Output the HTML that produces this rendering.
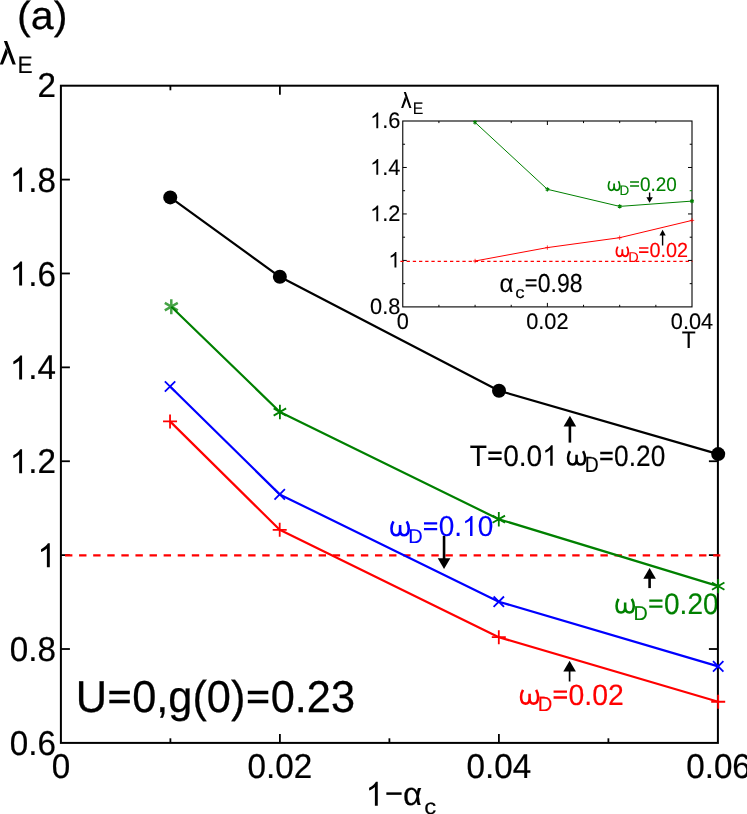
<!DOCTYPE html>
<html><head><meta charset="utf-8"><title>fig</title>
<style>html,body{margin:0;padding:0;background:#fff;}svg{display:block;will-change:transform;}text{font-family:"Liberation Sans",sans-serif;text-rendering:geometricPrecision;}</style>
</head><body>
<svg width="747" height="814" viewBox="0 0 747 814">
<rect x="0" y="0" width="747" height="814" fill="#fff"/>
<path d="M618.54 598.88C617.42 600.79 616.56 603.25 616.56 605.98C616.56 610.08 618.28 612.54 621.03 612.54C623.43 612.54 625.15 610.63 625.15 607.35L625.15 602.56M625.15 607.35C625.15 610.63 626.87 612.54 629.44 612.54C632.02 612.54 633.74 610.08 633.74 605.98C633.74 603.25 632.88 600.79 631.76 598.88" fill="none" stroke="#008000" stroke-width="2.57" stroke-linejoin="round"/>
<text transform="translate(633.45 620.23) scale(0.9813 1)" font-size="20.13" fill="#008000" stroke="#008000" stroke-width="0.12">D</text>
<path d="M649.27 599.42h13.22v2.33h-13.22zM649.27 605.47h13.22v2.33h-13.22z" fill="#008000"/>
<text transform="translate(664.06 613.73) scale(0.9412 1)" font-size="29.73" fill="#008000" stroke="#008000" stroke-width="0.18">0.20</text>
<rect x="60.9" y="85.7" width="657.0" height="657.1999999999999" stroke="#000" stroke-width="2.0" fill="none"/>
<g stroke="#000" stroke-width="1.8" fill="none">
<path d="M60.9 649.01h9"/>
<path d="M717.9 649.01h-9"/>
<path d="M60.9 555.13h9"/>
<path d="M717.9 555.13h-9"/>
<path d="M60.9 461.24h9"/>
<path d="M717.9 461.24h-9"/>
<path d="M60.9 367.36h9"/>
<path d="M60.9 273.47h9"/>
<path d="M60.9 179.59h9"/>
<path d="M170.40 742.9v-4.6"/>
<path d="M170.40 85.7v4.6"/>
<path d="M279.90 742.9v-9"/>
<path d="M279.90 85.7v9"/>
<path d="M389.40 742.9v-4.6"/>
<path d="M498.90 742.9v-9"/>
<path d="M608.40 742.9v-4.6"/>
</g>
<text transform="translate(37.42 96.80) scale(0.9630 1)" font-size="34.50" fill="#000" stroke="#000" stroke-width="0.21">2</text>
<path transform="translate(9.71 191.69) scale(0.01622 -0.01636)" d="M763 0H583V1147Q518 1085 412.5 1023T223 930V1104Q374 1175 487 1276T647 1472H763Z" fill="#000"/>
<text transform="translate(28.19 191.69) scale(0.9630 1)" font-size="34.50" fill="#000" stroke="#000" stroke-width="0.21">.8</text>
<path transform="translate(9.71 285.57) scale(0.01622 -0.01636)" d="M763 0H583V1147Q518 1085 412.5 1023T223 930V1104Q374 1175 487 1276T647 1472H763Z" fill="#000"/>
<text transform="translate(28.19 285.57) scale(0.9630 1)" font-size="34.50" fill="#000" stroke="#000" stroke-width="0.21">.6</text>
<path transform="translate(9.71 379.46) scale(0.01622 -0.01636)" d="M763 0H583V1147Q518 1085 412.5 1023T223 930V1104Q374 1175 487 1276T647 1472H763Z" fill="#000"/>
<text transform="translate(28.19 379.46) scale(0.9630 1)" font-size="34.50" fill="#000" stroke="#000" stroke-width="0.21">.4</text>
<path transform="translate(9.71 473.34) scale(0.01622 -0.01636)" d="M763 0H583V1147Q518 1085 412.5 1023T223 930V1104Q374 1175 487 1276T647 1472H763Z" fill="#000"/>
<text transform="translate(28.19 473.34) scale(0.9630 1)" font-size="34.50" fill="#000" stroke="#000" stroke-width="0.21">.2</text>
<path transform="translate(37.42 567.23) scale(0.01622 -0.01636)" d="M763 0H583V1147Q518 1085 412.5 1023T223 930V1104Q374 1175 487 1276T647 1472H763Z" fill="#000"/>
<text transform="translate(9.71 661.11) scale(0.9630 1)" font-size="34.50" fill="#000" stroke="#000" stroke-width="0.21">0.8</text>
<text transform="translate(9.71 755.00) scale(0.9630 1)" font-size="34.50" fill="#000" stroke="#000" stroke-width="0.21">0.6</text>
<text transform="translate(51.66 778.10) scale(0.9630 1)" font-size="34.50" fill="#000" stroke="#000" stroke-width="0.21">0</text>
<text transform="translate(247.57 778.10) scale(0.9630 1)" font-size="34.50" fill="#000" stroke="#000" stroke-width="0.21">0.02</text>
<text transform="translate(466.57 778.10) scale(0.9630 1)" font-size="34.50" fill="#000" stroke="#000" stroke-width="0.21">0.04</text>
<text transform="translate(686.17 778.10) scale(0.9630 1)" font-size="34.50" fill="#000" stroke="#000" stroke-width="0.21">0.06</text>
<text transform="translate(17.08 29.41) scale(1.0429 1)" font-size="39.46" fill="#000" stroke="#000" stroke-width="0.24">(a)</text>
<path d="M3.87 40.97L7.16 40.97L15.83 64.62L12.53 64.62ZM-0.23 64.62L2.99 64.62L7.80 52.80L5.95 47.72Z" fill="#000"/>
<text transform="translate(17.61 72.67) scale(0.9501 1)" font-size="23.98" fill="#000" stroke="#000" stroke-width="0.14">E</text>
<path transform="translate(365.57 805.73) scale(0.01598 -0.01634)" d="M763 0H583V1147Q518 1085 412.5 1023T223 930V1104Q374 1175 487 1276T647 1472H763Z" fill="#000"/>
<path d="M386.35 793.6H401.6" stroke="#000" stroke-width="2.5" fill="none"/>
<text transform="translate(403.09 805.41) scale(1.0273 1)" font-size="32.22" fill="#000" stroke="#000" stroke-width="0.19">α</text>
<text transform="translate(424.36 813.81) scale(1.1155 1)" font-size="21.52" fill="#000" stroke="#000" stroke-width="0.13">c</text>
<text transform="translate(75.63 712.14) scale(0.9707 1)" font-size="44.63" fill="#000" stroke="#000" stroke-width="0.27">U</text>
<path d="M109.33 690.66h20.46v3.50h-20.46zM109.33 699.74h20.46v3.50h-20.46z" fill="#000"/>
<text transform="translate(132.22 712.14) scale(0.9707 1)" font-size="44.63" fill="#000" stroke="#000" stroke-width="0.27">0,g(0)</text>
<path d="M247.82 690.66h20.46v3.50h-20.46zM247.82 699.74h20.46v3.50h-20.46z" fill="#000"/>
<text transform="translate(270.70 712.14) scale(0.9707 1)" font-size="44.63" fill="#000" stroke="#000" stroke-width="0.27">0.23</text>
<path d="M65 555.3H720.3" stroke="#f00" stroke-width="2.2" stroke-dasharray="7.4 6.69" fill="none"/>
<path d="M170.05 421.40L279.70 529.80L498.80 637.20L718.20 701.75" stroke="#ff0000" stroke-width="2.2" fill="none" stroke-linejoin="round"/>
<path d="M163.05 421.40h14M170.05 414.40v14" stroke="#ff0000" stroke-width="1.8" fill="none"/>
<path d="M272.70 529.80h14M279.70 522.80v14" stroke="#ff0000" stroke-width="1.8" fill="none"/>
<path d="M491.80 637.20h14M498.80 630.20v14" stroke="#ff0000" stroke-width="1.8" fill="none"/>
<path d="M711.20 701.75h14M718.20 694.75v14" stroke="#ff0000" stroke-width="1.8" fill="none"/>
<path d="M170.05 386.50L279.70 494.40L498.80 601.70L718.20 666.40" stroke="#0000ff" stroke-width="2.2" fill="none" stroke-linejoin="round"/>
<path d="M164.85 381.30l10.4 10.4M164.85 391.70l10.4 -10.4" stroke="#0000ff" stroke-width="1.8" fill="none"/>
<path d="M274.50 489.20l10.4 10.4M274.50 499.60l10.4 -10.4" stroke="#0000ff" stroke-width="1.8" fill="none"/>
<path d="M493.60 596.50l10.4 10.4M493.60 606.90l10.4 -10.4" stroke="#0000ff" stroke-width="1.8" fill="none"/>
<path d="M713.00 661.20l10.4 10.4M713.00 671.60l10.4 -10.4" stroke="#0000ff" stroke-width="1.8" fill="none"/>
<path d="M171.30 306.70L279.90 412.00L498.80 519.20L718.20 586.10" stroke="#008000" stroke-width="2.2" fill="none" stroke-linejoin="round"/>
<defs><filter id="soft" x="-30%" y="-30%" width="160%" height="160%"><feGaussianBlur stdDeviation="0.45"/></filter></defs>
<path d="M171.30 299.20v15.0M164.81 302.95l12.99 7.50M164.81 310.45l12.99 -7.50" stroke="#008000" stroke-width="2.5" fill="none" opacity="0.72" filter="url(#soft)"/>
<path d="M279.90 404.80v14.4M273.66 408.40l12.47 7.20M273.66 415.60l12.47 -7.20" stroke="#008000" stroke-width="1.8" fill="none"/>
<path d="M498.80 512.00v14.4M492.56 515.60l12.47 7.20M492.56 522.80l12.47 -7.20" stroke="#008000" stroke-width="1.8" fill="none"/>
<path d="M718.20 578.90v14.4M711.96 582.50l12.47 7.20M711.96 589.70l12.47 -7.20" stroke="#008000" stroke-width="1.8" fill="none"/>
<path d="M170.25 197.40L279.85 276.80L499.00 390.75L718.20 454.10" stroke="#000" stroke-width="2.2" fill="none" stroke-linejoin="round"/>
<circle cx="170.25" cy="197.40" r="7" fill="#000"/>
<circle cx="279.85" cy="276.80" r="7" fill="#000"/>
<circle cx="499.00" cy="390.75" r="7" fill="#000"/>
<circle cx="718.20" cy="454.10" r="7" fill="#000"/>
<path d="M569.9 442.6V425.5" stroke="#000" stroke-width="2.6" fill="none"/>
<path d="M569.9 415.7l6.3 10.8h-12.6z" fill="#000"/>
<path d="M649.6 588.1V577.8" stroke="#000" stroke-width="2.6" fill="none"/>
<path d="M649.6 568.0l6.3 10.8h-12.6z" fill="#000"/>
<path d="M569.6 681.5V670.5" stroke="#000" stroke-width="1.7" fill="none"/>
<path d="M569.6 660.7l6.3 10.8h-12.6z" fill="#000"/>
<text transform="translate(469.64 465.84) scale(0.9489 1)" font-size="29.59" fill="#000" stroke="#000" stroke-width="0.18">T</text>
<path d="M488.36 451.59h13.26v2.32h-13.26zM488.36 457.61h13.26v2.32h-13.26z" fill="#000"/>
<text transform="translate(503.19 465.84) scale(0.9489 1)" font-size="29.59" fill="#000" stroke="#000" stroke-width="0.18">0.0</text>
<path transform="translate(542.22 465.84) scale(0.01371 -0.01403)" d="M763 0H583V1147Q518 1085 412.5 1023T223 930V1104Q374 1175 487 1276T647 1472H763Z" fill="#000"/>
<path d="M569.99 451.07C568.89 452.95 568.03 455.36 568.03 458.04C568.03 462.05 569.74 464.47 572.46 464.47C574.85 464.47 576.55 462.59 576.55 459.38L576.55 454.69M576.55 459.38C576.55 462.59 578.25 464.47 580.81 464.47C583.36 464.47 585.07 462.05 585.07 458.04C585.07 455.36 584.21 452.95 583.11 451.07" fill="none" stroke="#000" stroke-width="2.52" stroke-linejoin="round"/>
<text transform="translate(584.79 472.38) scale(0.8808 1)" font-size="21.95" fill="#000" stroke="#000" stroke-width="0.13">D</text>
<path d="M600.22 451.86h12.42v2.31h-12.42zM600.22 457.85h12.42v2.31h-12.42z" fill="#000"/>
<text transform="translate(614.12 466.04) scale(0.8930 1)" font-size="29.45" fill="#000" stroke="#000" stroke-width="0.18">0.20</text>
<path d="M444.05 536.0V559.3000000000001" stroke="#000" stroke-width="2.6" fill="none"/>
<path d="M444.05 569.1l6.3 -10.8h-12.6z" fill="#000"/>
<path d="M393.46 521.32C392.34 523.27 391.48 525.77 391.48 528.55C391.48 532.72 393.21 535.22 395.96 535.22C398.38 535.22 400.10 533.27 400.10 529.94L400.10 525.08M400.10 529.94C400.10 533.27 401.82 535.22 404.41 535.22C406.99 535.22 408.72 532.72 408.72 528.55C408.72 525.77 407.86 523.27 406.74 521.32" fill="none" stroke="#0000ff" stroke-width="2.61" stroke-linejoin="round"/>
<text transform="translate(408.28 542.93) scale(1.0011 1)" font-size="19.99" fill="#0000ff" stroke="#0000ff" stroke-width="0.12">D</text>
<path d="M423.98 522.21h13.22v2.25h-13.22zM423.98 528.06h13.22v2.25h-13.22z" fill="#0000ff"/>
<text transform="translate(438.76 536.04) scale(0.9735 1)" font-size="28.74" fill="#0000ff" stroke="#0000ff" stroke-width="0.17">0.</text>
<path transform="translate(462.09 536.04) scale(0.01366 -0.01363)" d="M763 0H583V1147Q518 1085 412.5 1023T223 930V1104Q374 1175 487 1276T647 1472H763Z" fill="#0000ff"/>
<text transform="translate(477.66 536.04) scale(0.9735 1)" font-size="28.74" fill="#0000ff" stroke="#0000ff" stroke-width="0.17">0</text>
<path d="M523.02 689.97C521.91 691.89 521.06 694.35 521.06 697.08C521.06 701.18 522.76 703.64 525.49 703.64C527.87 703.64 529.58 701.73 529.58 698.45L529.58 693.66M529.58 698.45C529.58 701.73 531.28 703.64 533.83 703.64C536.39 703.64 538.09 701.18 538.09 697.08C538.09 694.35 537.24 691.89 536.13 689.97" fill="none" stroke="#ff0000" stroke-width="2.57" stroke-linejoin="round"/>
<text transform="translate(537.72 711.03) scale(0.9810 1)" font-size="20.57" fill="#ff0000" stroke="#ff0000" stroke-width="0.12">D</text>
<path d="M553.57 690.40h13.41v2.30h-13.41zM553.57 696.37h13.41v2.30h-13.41z" fill="#ff0000"/>
<text transform="translate(568.57 704.54) scale(0.9661 1)" font-size="29.38" fill="#ff0000" stroke="#ff0000" stroke-width="0.18">0.02</text>
<rect x="402.77" y="121.0" width="289.23" height="185.89999999999998" fill="#fff" stroke="#000" stroke-width="1.1"/>
<g stroke="#000" stroke-width="1" fill="none">
<path d="M438.92 306.9v-2.1M438.92 121.0v2.1"/>
<path d="M475.08 306.9v-2.1M475.08 121.0v2.1"/>
<path d="M511.23 306.9v-2.1M511.23 121.0v2.1"/>
<path d="M547.38 306.9v-4M547.38 121.0v4"/>
<path d="M583.54 306.9v-2.1M583.54 121.0v2.1"/>
<path d="M619.69 306.9v-2.1M619.69 121.0v2.1"/>
<path d="M655.85 306.9v-2.1M655.85 121.0v2.1"/>
<path d="M402.77 283.66h2.3"/><path d="M692.0 283.66h-2.3"/>
<path d="M402.77 260.43h4"/><path d="M692.0 260.43h-4"/>
<path d="M402.77 237.19h2.3"/><path d="M692.0 237.19h-2.3"/>
<path d="M402.77 213.95h4"/><path d="M692.0 213.95h-4"/>
<path d="M402.77 190.71h2.3"/><path d="M692.0 190.71h-2.3" stroke="#008000"/>
<path d="M402.77 167.47h4"/><path d="M692.0 167.47h-4"/>
<path d="M402.77 144.24h2.3"/><path d="M692.0 144.24h-2.3"/>
</g>
<path transform="translate(370.12 128.20) scale(0.01063 -0.01067)" d="M763 0H583V1147Q518 1085 412.5 1023T223 930V1104Q374 1175 487 1276T647 1472H763Z" fill="#000"/>
<text transform="translate(382.24 128.20) scale(0.9680 1)" font-size="22.50" fill="#000" stroke="#000" stroke-width="0.14">.6</text>
<path transform="translate(370.12 174.68) scale(0.01063 -0.01067)" d="M763 0H583V1147Q518 1085 412.5 1023T223 930V1104Q374 1175 487 1276T647 1472H763Z" fill="#000"/>
<text transform="translate(382.24 174.68) scale(0.9680 1)" font-size="22.50" fill="#000" stroke="#000" stroke-width="0.14">.4</text>
<path transform="translate(370.12 221.15) scale(0.01063 -0.01067)" d="M763 0H583V1147Q518 1085 412.5 1023T223 930V1104Q374 1175 487 1276T647 1472H763Z" fill="#000"/>
<text transform="translate(382.24 221.15) scale(0.9680 1)" font-size="22.50" fill="#000" stroke="#000" stroke-width="0.14">.2</text>
<path transform="translate(388.29 267.62) scale(0.01063 -0.01067)" d="M763 0H583V1147Q518 1085 412.5 1023T223 930V1104Q374 1175 487 1276T647 1472H763Z" fill="#000"/>
<text transform="translate(370.12 314.10) scale(0.9680 1)" font-size="22.50" fill="#000" stroke="#000" stroke-width="0.14">0.8</text>
<text transform="translate(396.72 328.60) scale(0.9720 1)" font-size="22.40" fill="#000" stroke="#000" stroke-width="0.13">0</text>
<text transform="translate(526.20 328.60) scale(0.9720 1)" font-size="22.40" fill="#000" stroke="#000" stroke-width="0.13">0.02</text>
<text transform="translate(670.81 328.60) scale(0.9720 1)" font-size="22.40" fill="#000" stroke="#000" stroke-width="0.13">0.04</text>
<path d="M403.76 92.03L405.89 92.03L411.47 108.06L409.35 108.06ZM401.12 108.06L403.19 108.06L406.30 100.05L405.11 96.60Z" fill="#000"/>
<text transform="translate(412.83 113.62) scale(0.9548 1)" font-size="16.60" fill="#000" stroke="#000" stroke-width="0.10">E</text>
<text transform="translate(681.76 347.80) scale(0.9494 1)" font-size="24.01" fill="#000" stroke="#000" stroke-width="0.14">T</text>
<path d="M400.4 261.4H692.5" stroke="#ff0000" stroke-width="1.1" stroke-dasharray="3.3 2.9" fill="none"/>
<path d="M475.08 261.00L547.38 247.60L619.69 237.70L692.00 220.40" stroke="#ff0000" stroke-width="1.0" fill="none" stroke-linejoin="round"/>
<path d="M472.88 261.00h4.4M475.08 258.80v4.4" stroke="#ff0000" stroke-width="0.75" fill="none"/>
<path d="M545.18 247.60h4.4M547.38 245.40v4.4" stroke="#ff0000" stroke-width="0.75" fill="none"/>
<path d="M617.49 237.70h4.4M619.69 235.50v4.4" stroke="#ff0000" stroke-width="0.75" fill="none"/>
<path d="M689.80 220.40h4.4M692.00 218.20v4.4" stroke="#ff0000" stroke-width="0.75" fill="none"/>
<path d="M474.98 122.30L547.38 189.30L619.69 206.40L692.00 201.10" stroke="#008000" stroke-width="1.0" fill="none" stroke-linejoin="round"/>
<path d="M474.98 120.20v4.2M473.16 121.25l3.64 2.10M473.16 123.35l3.64 -2.10" stroke="#008000" stroke-width="1.2" fill="none"/>
<path d="M547.38 187.20v4.2M545.57 188.25l3.64 2.10M545.57 190.35l3.64 -2.10" stroke="#008000" stroke-width="1.2" fill="none"/>
<path d="M619.69 204.30v4.2M617.87 205.35l3.64 2.10M617.87 207.45l3.64 -2.10" stroke="#008000" stroke-width="1.2" fill="none"/>
<path d="M692.00 199.00v4.2M690.18 200.05l3.64 2.10M690.18 202.15l3.64 -2.10" stroke="#008000" stroke-width="1.2" fill="none"/>
<path d="M649.6 192.5V198.20000000000002" stroke="#000" stroke-width="1.4" fill="none"/>
<path d="M649.6 202.8l3.2 -5.6h-6.4z" fill="#000"/>
<path d="M662.6 245.5V234.60000000000002" stroke="#000" stroke-width="1.4" fill="none"/>
<path d="M662.6 229.8l3.1 5.8h-6.2z" fill="#000"/>
<path d="M609.74 181.08C609.01 182.36 608.44 184.01 608.44 185.85C608.44 188.61 609.57 190.26 611.38 190.26C612.97 190.26 614.10 188.97 614.10 186.77L614.10 183.56M614.10 186.77C614.10 188.97 615.23 190.26 616.93 190.26C618.63 190.26 619.76 188.61 619.76 185.85C619.76 184.01 619.19 182.36 618.46 181.08" fill="none" stroke="#008000" stroke-width="1.73" stroke-linejoin="round"/>
<text transform="translate(619.57 195.22) scale(0.9772 1)" font-size="13.74" fill="#008000" stroke="#008000" stroke-width="0.08">D</text>
<path d="M630.07 181.24h8.93v1.54h-8.93zM630.07 185.25h8.93v1.54h-8.93z" fill="#008000"/>
<text transform="translate(640.06 190.71) scale(0.9610 1)" font-size="19.67" fill="#008000" stroke="#008000" stroke-width="0.12">0.20</text>
<path d="M617.79 246.62C617.02 247.96 616.43 249.69 616.43 251.61C616.43 254.49 617.61 256.22 619.51 256.22C621.17 256.22 622.35 254.88 622.35 252.57L622.35 249.21M622.35 252.57C622.35 254.88 623.53 256.22 625.31 256.22C627.09 256.22 628.27 254.49 628.27 251.61C628.27 249.69 627.68 247.96 626.91 246.62" fill="none" stroke="#ff0000" stroke-width="1.81" stroke-linejoin="round"/>
<text transform="translate(628.16 261.80) scale(1.0149 1)" font-size="14.27" fill="#ff0000" stroke="#ff0000" stroke-width="0.09">D</text>
<path d="M639.07 247.17h9.36v1.59h-9.36zM639.07 251.29h9.36v1.59h-9.36z" fill="#ff0000"/>
<text transform="translate(649.55 256.93) scale(0.9779 1)" font-size="20.27" fill="#ff0000" stroke="#ff0000" stroke-width="0.12">0.02</text>
<text transform="translate(499.50 291.68) scale(0.9548 1)" font-size="25.54" fill="#000" stroke="#000" stroke-width="0.15">α</text>
<text transform="translate(515.13 297.76) scale(1.1423 1)" font-size="16.45" fill="#000" stroke="#000" stroke-width="0.10">c</text>
<path d="M525.67 279.16h10.86v2.04h-10.86zM525.67 284.45h10.86v2.04h-10.86z" fill="#000"/>
<text transform="translate(537.82 291.67) scale(0.8848 1)" font-size="25.99" fill="#000" stroke="#000" stroke-width="0.16">0.98</text>
</svg>
</body></html>
